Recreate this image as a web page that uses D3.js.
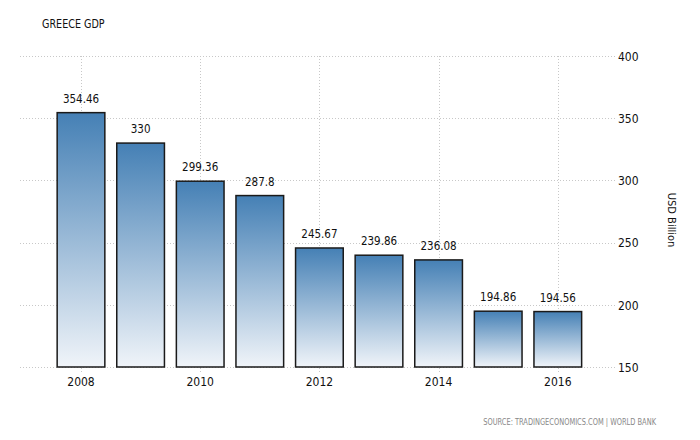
<!DOCTYPE html>
<html><head><meta charset="utf-8">
<script src="https://cdn.jsdelivr.net/npm/d3@7"></script>
<style>body{margin:0;background:#fff}svg{display:block}</style>
</head><body>
<svg id="c" width="700" height="440"></svg>
<script>
const years = [2008, 2009, 2010, 2011, 2012, 2013, 2014, 2015, 2016];
const gdp = [354.46, 330, 299.36, 287.8, 245.67, 239.86, 236.08, 194.86, 194.56];
const gdpLabels = ["354.46", "330", "299.36", "287.8", "245.67", "239.86", "236.08", "194.86", "194.56"];
const yTicks = [150, 200, 250, 300, 350, 400];
const xTickYears = [2008, 2010, 2012, 2014, 2016];

const svg = d3.select("#c");
const font = "'DejaVu Sans Condensed','DejaVu Sans',sans-serif";
const x = d3.scaleBand().domain(years).range([51.2, 587.6]).paddingInner(0.2).paddingOuter(0.1);
const y = d3.scaleLinear().domain([150, 400]).range([367, 56]);

const defs = svg.append("defs");
const g = defs.append("linearGradient").attr("id", "bg").attr("x1", 0).attr("y1", 0).attr("x2", 0).attr("y2", 1);
g.append("stop").attr("offset", "0%").attr("stop-color", "#4580b5");
g.append("stop").attr("offset", "100%").attr("stop-color", "#f0f4f9");

// horizontal grid
svg.append("g").selectAll("line").data(yTicks).join("line")
  .attr("x1", 20).attr("x2", 615).attr("y1", d => Math.round(y(d)) + 0.5).attr("y2", d => Math.round(y(d)) + 0.5)
  .attr("stroke", "#c8c8c8").attr("stroke-dasharray", "1,2");
// vertical grid
svg.append("g").selectAll("line").data(xTickYears).join("line")
  .attr("x1", d => Math.round(x(d) + x.bandwidth() / 2) + 0.5).attr("x2", d => Math.round(x(d) + x.bandwidth() / 2) + 0.5)
  .attr("y1", 56).attr("y2", 372)
  .attr("stroke", "#c8c8c8").attr("stroke-dasharray", "1,2");

// bars
svg.append("g").selectAll("rect").data(years).join("rect")
  .attr("x", d => x(d)).attr("width", x.bandwidth())
  .attr("y", (d, i) => y(gdp[i])).attr("height", (d, i) => y(150) - y(gdp[i]))
  .attr("fill", "url(#bg)").attr("stroke", "#1a1a1a").attr("stroke-width", 1.5);

// value labels
svg.append("g").selectAll("text").data(years).join("text")
  .attr("x", d => x(d) + x.bandwidth() / 2).attr("y", (d, i) => y(gdp[i]) - 10)
  .attr("text-anchor", "middle").attr("font-family", font).attr("font-size", 11.5).attr("fill", "#111")
  .text((d, i) => gdpLabels[i]);

// right axis
const yAxis = d3.axisRight(y).tickValues(yTicks).tickSize(0).tickPadding(0);
const ya = svg.append("g").attr("transform", "translate(618,0)").call(yAxis);
ya.select(".domain").remove();
ya.selectAll("text").attr("font-family", font).attr("font-size", 12).attr("fill", "#111").attr("dy", "0.35em");

// bottom axis
const xAxis = d3.axisBottom(x).tickValues(xTickYears).tickSize(0).tickPadding(0);
const xa = svg.append("g").attr("transform", "translate(0,377)").call(xAxis);
xa.select(".domain").remove();
xa.selectAll("text").attr("font-family", font).attr("font-size", 12).attr("fill", "#111").attr("dy", "0.71em");

// axis title
svg.append("text").attr("transform", "translate(668,220) rotate(90)")
  .attr("text-anchor", "middle").attr("font-family", font).attr("font-size", 11).attr("fill", "#111")
  .text("USD Billion");

// title
svg.append("text").attr("transform", "translate(42,28) scale(0.82,1)")
  .attr("font-family", font).attr("font-size", 13).attr("fill", "#111")
  .text("GREECE GDP");

// source
svg.append("text").attr("transform", "translate(656,425) scale(0.78,1)")
  .attr("text-anchor", "end").attr("font-family", font)
  .attr("font-size", 9.5).attr("fill", "#888")
  .text("SOURCE: TRADINGECONOMICS.COM | WORLD BANK");
</script>
</body></html>
